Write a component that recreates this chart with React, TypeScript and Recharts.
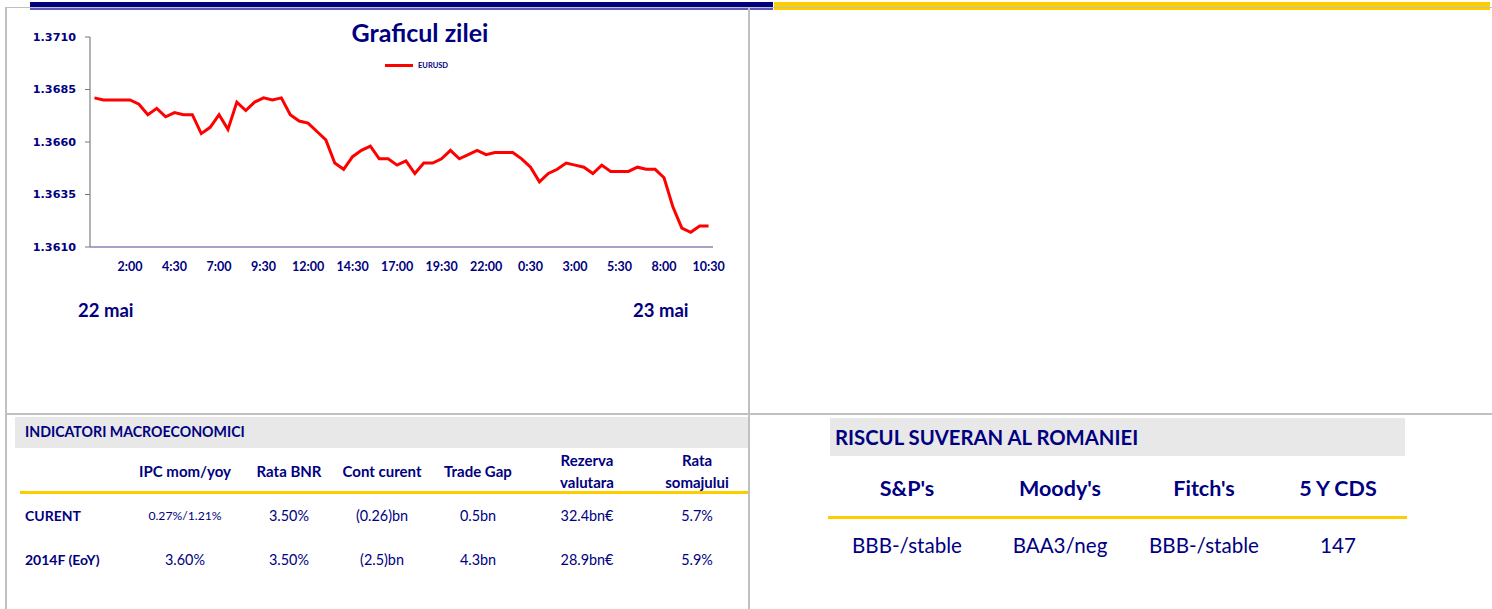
import React from 'react';
import { ComposedChart, Line, XAxis, YAxis, Legend } from 'recharts';

const NAVY = '#000080';
const GOLD = '#ffcc00';
const GRID_GRAY = '#c0c0c0';

// 30-minute slots, 22 mai 0:00 -> 23 mai 10:30
const day1Times = [
  '0:00', '0:30', '1:00', '1:30', '2:00', '2:30', '3:00', '3:30', '4:00', '4:30', '5:00', '5:30',
  '6:00', '6:30', '7:00', '7:30', '8:00', '8:30', '9:00', '9:30', '10:00', '10:30', '11:00', '11:30',
  '12:00', '12:30', '13:00', '13:30', '14:00', '14:30', '15:00', '15:30', '16:00', '16:30', '17:00', '17:30',
  '18:00', '18:30', '19:00', '19:30', '20:00', '20:30', '21:00', '21:30', '22:00', '22:30', '23:00', '23:30',
];
const day2Times = [
  '0:00', '0:30', '1:00', '1:30', '2:00', '2:30', '3:00', '3:30', '4:00', '4:30', '5:00', '5:30',
  '6:00', '6:30', '7:00', '7:30', '8:00', '8:30', '9:00', '9:30', '10:00', '10:30',
];

const eurusd = [
  1.3681, 1.3680, 1.3680, 1.3680, 1.3680, 1.3678, 1.3673, 1.3676, 1.3672, 1.3674,
  1.3673, 1.3673, 1.3664, 1.3667, 1.3673, 1.3666, 1.3679, 1.3675, 1.3679, 1.3681,
  1.3680, 1.3681, 1.3673, 1.3670, 1.3669, 1.3665, 1.3661, 1.3650, 1.3647, 1.3653,
  1.3656, 1.3658, 1.3652, 1.3652, 1.3649, 1.3651, 1.3645, 1.3650, 1.3650, 1.3652,
  1.3656, 1.3652, 1.3654, 1.3656, 1.3654, 1.3655, 1.3655, 1.3655, 1.3652, 1.3648,
  1.3641, 1.3645, 1.3647, 1.3650, 1.3649, 1.3648, 1.3645, 1.3649, 1.3646, 1.3646,
  1.3646, 1.3648, 1.3647, 1.3647, 1.3643, 1.3629, 1.3619, 1.3617, 1.3620, 1.3620,
];

const yTicks = [1.361, 1.3635, 1.366, 1.3685, 1.371];

const macroCols = ['IPC mom/yoy', 'Rata BNR', 'Cont curent', 'Trade Gap', 'Rezerva\nvalutara', 'Rata\nsomajului'];
const macroColX = [185, 289, 382, 478, 587, 697];
const macroRows = ['CURENT', '2014F (EoY)'];
const macroValues = [
  ['0.27%/1.21%', '3.50%', '(0.26)bn', '0.5bn', '32.4bn€', '5.7%'],
  ['3.60%', '3.50%', '(2.5)bn', '4.3bn', '28.9bn€', '5.9%'],
];

const ratingCols = ["S&P's", "Moody's", "Fitch's", '5 Y CDS'];
const ratingColX = [907, 1060, 1204, 1338];
const ratingValues = ['BBB-/stable', 'BAA3/neg', 'BBB-/stable', '147'];

const slots = [...day1Times.map(t => `22 mai ${t}`), ...day2Times.map(t => `23 mai ${t}`)];
const data = slots.map((slot, i) => ({ slot, EURUSD: eurusd[i] }));

// eslint-disable-next-line @typescript-eslint/no-explicit-any
function TimeTick({ x, y, payload, index }: any) {
  if (index % 5 !== 4) return <g />;
  return (
    <text x={x} y={y} dy="0.355em" textAnchor="middle" fill={NAVY}
      style={{ fontFamily: 'Lato', fontWeight: 700, fontSize: 12.5 }}>
      {String(payload.value).split(' ')[2]}
    </text>
  );
}

function LegendBox() {
  return (
    <div style={{ display: 'flex', alignItems: 'center', gap: 5 }}>
      <span style={{ display: 'inline-block', width: 28, height: 3, background: '#ff0000' }} />
      <span style={{ fontFamily: 'Lato', fontWeight: 700, fontSize: 7.5, color: NAVY }}>EURUSD</span>
    </div>
  );
}

function Txt({ x, y, children, size = 14, bold = false, align = 'center' }:
  { x: number; y: number; children: React.ReactNode; size?: number; bold?: boolean; align?: 'center' | 'left' }) {
  const w = 240;
  return (
    <div style={{
      position: 'absolute', left: align === 'center' ? x - w / 2 : x, top: y - 12, width: w, height: 24,
      lineHeight: '24px', textAlign: align, fontSize: size, fontWeight: bold ? 700 : 400,
      color: NAVY, fontFamily: 'Lato', whiteSpace: 'nowrap',
    }}>{children}</div>
  );
}

function Rect({ l, t, w, h, c }: { l: number; t: number; w: number; h: number; c: string }) {
  return <div style={{ position: 'absolute', left: l, top: t, width: w, height: h, background: c }} />;
}

export default function App() {
  return (
    <div style={{ position: 'absolute', left: 0, top: 0, width: 1492, height: 609, background: '#fff', overflow: 'hidden' }}>
      {/* frame */}
      <Rect l={5} t={7} w={1487} h={1} c={GRID_GRAY} />
      <Rect l={30} t={2} w={743} h={5} c={NAVY} />
      <Rect l={30} t={8} w={743} h={1.5} c="#5a5ab4" />
      <Rect l={774} t={2} w={716} h={5} c={GOLD} />
      <Rect l={774} t={8} w={716} h={1.5} c={GOLD} />
      <Rect l={5} t={7} w={1.5} h={602} c={GRID_GRAY} />
      <Rect l={748} t={8} w={2} h={601} c={GRID_GRAY} />
      <Rect l={5} t={413} w={1487} h={2} c={GRID_GRAY} />

      {/* chart */}
      <div style={{ position: 'absolute', left: 0, top: 0 }}>
        <ComposedChart width={740} height={330} data={data} margin={{ top: 37, right: 27, bottom: 53, left: 0 }}>
          <XAxis dataKey="slot" scale="band" interval={0} height={30} tickLine={false} tickSize={0} tickMargin={20}
            axisLine={{ stroke: '#4a4a96', strokeWidth: 1.2 }} tick={<TimeTick />} />
          <YAxis domain={[1.361, 1.371]} ticks={yTicks} width={90} tickSize={5} tickMargin={9}
            axisLine={{ stroke: '#9a9a9a', strokeWidth: 1.5 }} tickLine={{ stroke: '#777' }}
            tickFormatter={(v: number) => v.toFixed(4)}
            tick={{ fill: NAVY, fontFamily: 'DejaVu Sans', fontWeight: 700, fontSize: 11.2 }} />
          <Legend layout="horizontal" verticalAlign="middle" align="center" content={<LegendBox />}
            wrapperStyle={{ left: 385, top: 61, width: 'auto', height: 12 }} />
          <Line type="linear" dataKey="EURUSD" stroke="#ff0000" strokeWidth={3} dot={false} isAnimationActive={false} />
        </ComposedChart>
      </div>
      <div style={{ position: 'absolute', left: 270, top: 16, width: 300, textAlign: 'center', fontFamily: 'Lato',
        fontWeight: 700, fontSize: 25, color: NAVY, lineHeight: '32px' }}>Graficul zilei</div>
      <Txt x={78} y={310} size={18.5} bold align="left">22 mai</Txt>
      <Txt x={633} y={310} size={18.5} bold align="left">23 mai</Txt>

      {/* macro table */}
      <Rect l={15} t={417} w={733} h={31} c="#e8e8e8" />
      <Txt x={25} y={432} size={14.2} bold align="left">INDICATORI MACROECONOMICI</Txt>
      {macroCols.map((c, i) => {
        const parts = c.split('\n');
        return parts.length === 1
          ? <Txt key={c} x={macroColX[i]} y={471} size={15} bold>{c}</Txt>
          : <React.Fragment key={c}>
              <Txt x={macroColX[i]} y={460} size={15} bold>{parts[0]}</Txt>
              <Txt x={macroColX[i]} y={482} size={15} bold>{parts[1]}</Txt>
            </React.Fragment>;
      })}
      <Rect l={20} t={491} w={728} h={2.5} c={GOLD} />
      {macroRows.map((r, ri) => (
        <React.Fragment key={r}>
          <Txt x={25} y={516 + ri * 44} size={14} bold align="left">{r}</Txt>
          {macroValues[ri].map((v, ci) => (
            <Txt key={ci} x={macroColX[ci]} y={516 + ri * 44} size={ri === 0 && ci === 0 ? 12.2 : 14.4}>{v}</Txt>
          ))}
        </React.Fragment>
      ))}

      {/* sovereign risk */}
      <Rect l={830} t={418} w={575} h={38} c="#e8e8e8" />
      <Txt x={835} y={437} size={20.3} bold align="left">RISCUL SUVERAN AL ROMANIEI</Txt>
      {ratingCols.map((c, i) => <Txt key={c} x={ratingColX[i]} y={488} size={21.5} bold>{c}</Txt>)}
      <Rect l={828} t={516} w={579} h={3} c={GOLD} />
      {ratingValues.map((v, i) => <Txt key={i} x={ratingColX[i]} y={545} size={20.6}>{v}</Txt>)}
    </div>
  );
}
